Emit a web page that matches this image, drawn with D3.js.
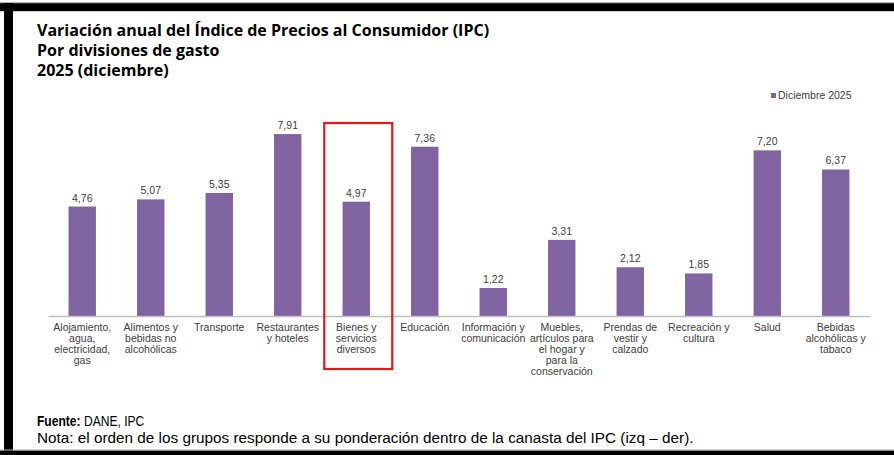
<!DOCTYPE html>
<html>
<head>
<meta charset="utf-8">
<script src="https://cdn.jsdelivr.net/npm/d3@7"></script>
<style>
  html, body { margin: 0; padding: 0; background: #fff; }
  svg { display: block; }
</style>
</head>
<body>
<svg id="chart" width="894" height="455"></svg>
<script>
// chart data
const categories = [
  'Alojamiento,\nagua,\nelectricidad,\ngas',
  'Alimentos y\nbebidas no\nalcohólicas',
  'Transporte',
  'Restaurantes\ny hoteles',
  'Bienes y\nservicios\ndiversos',
  'Educación',
  'Información y\ncomunicación',
  'Muebles,\nartículos para\nel hogar y\npara la\nconservación',
  'Prendas de\nvestir y\ncalzado',
  'Recreación y\ncultura',
  'Salud',
  'Bebidas\nalcohólicas y\ntabaco'
];
const values = [4.76, 5.07, 5.35, 7.91, 4.97, 7.36, 1.22, 3.31, 2.12, 1.85, 7.20, 6.37];
const seriesName = 'Diciembre 2025';
const highlighted = 'Bienes y\nservicios\ndiversos';
const titleLines = [
  'Variación anual del Índice de Precios al Consumidor (IPC)',
  'Por divisiones de gasto',
  '2025 (diciembre)'
];
const sourceLabel = 'Fuente:';
const sourceText = ' DANE, IPC';
const noteText = 'Nota: el orden de los grupos responde a su ponderación dentro de la canasta del IPC (izq – der).';

const svg = d3.select('#chart'),
  width = +svg.attr('width'),
  height = +svg.attr('height');

const barColor = '#8064a2';
const textColor = '#404040';
const fmt = v => d3.format('.2f')(v).replace('.', ',');

// frame (screenshot borders)
svg.append('rect').attr('x', 0).attr('y', 2).attr('width', width).attr('height', 1.2).attr('fill', '#b0b0b0');
svg.append('rect').attr('x', 0).attr('y', 3.2).attr('width', width).attr('height', 8).attr('fill', '#000');
svg.append('rect').attr('x', 4).attr('y', 3).attr('width', 9).attr('height', height).attr('fill', '#000');
svg.append('rect').attr('x', 0).attr('y', 449.5).attr('width', width).attr('height', 1.2).attr('fill', '#b0b0b0');
svg.append('rect').attr('x', 0).attr('y', 450.7).attr('width', width).attr('height', 5).attr('fill', '#000');

// title
svg.append('g')
  .selectAll('text')
  .data(titleLines)
  .enter().append('text')
  .attr('x', 37)
  .attr('y', (d, i) => 36 + i * 20)
  .attr('font-family', '"Open Sans", Lato, sans-serif')
  .attr('font-weight', 'bold')
  .attr('font-size', '16px')
  .attr('fill', '#000')
  .text(d => d);

// scales
const x = d3.scaleBand()
  .domain(categories)
  .range([48, 870])
  .paddingInner(0.6)
  .paddingOuter(0.3);

const y = d3.scaleLinear()
  .domain([0, 9])
  .range([316, 109]);

// bars
svg.append('g')
  .selectAll('rect')
  .data(values)
  .enter().append('rect')
  .attr('x', (d, i) => x(categories[i]))
  .attr('y', d => y(d))
  .attr('width', x.bandwidth())
  .attr('height', d => y(0) - y(d))
  .attr('fill', barColor);

// value labels
svg.append('g')
  .selectAll('text')
  .data(values)
  .enter().append('text')
  .attr('x', (d, i) => x(categories[i]) + x.bandwidth() / 2)
  .attr('y', d => y(d) - 5)
  .attr('text-anchor', 'middle')
  .attr('font-family', '"Liberation Sans", Arial, sans-serif')
  .attr('font-size', '10.5px')
  .attr('fill', textColor)
  .text(d => fmt(d));

// x axis
const xAxis = svg.append('g')
  .attr('transform', `translate(0,${y(0)})`)
  .call(d3.axisBottom(x).tickSize(0).tickFormat(''));
xAxis.select('.domain')
  .attr('stroke', '#bfbfbf')
  .attr('stroke-width', 1.5);

xAxis.selectAll('.tick').each(function(d) {
  const lines = d.split('\n');
  d3.select(this).select('text').remove();
  d3.select(this).append('text')
    .attr('text-anchor', 'middle')
    .attr('font-family', '"Liberation Sans", Arial, sans-serif')
    .attr('font-size', '10.5px')
    .attr('fill', textColor)
    .selectAll('tspan')
    .data(lines)
    .enter().append('tspan')
    .attr('x', 0)
    .attr('y', (l, i) => 15 + i * 11)
    .text(l => l);
});

// highlight box
const hx = x(highlighted) + x.bandwidth() / 2;
svg.append('rect')
  .attr('x', hx - 32)
  .attr('y', 123)
  .attr('width', 68)
  .attr('height', 246)
  .attr('fill', 'none')
  .attr('stroke', '#e8151b')
  .attr('stroke-width', 2.2);

// legend
const legend = svg.append('g').attr('transform', 'translate(771,93)');
legend.append('rect')
  .attr('width', 5).attr('height', 5)
  .attr('fill', barColor);
legend.append('text')
  .attr('x', 7).attr('y', 6)
  .attr('font-family', '"Liberation Sans", Arial, sans-serif')
  .attr('font-size', '10.5px')
  .attr('fill', textColor)
  .text(seriesName);

// footer: narrow face imitated by a horizontal squeeze
const src = svg.append('text')
  .attr('transform', 'translate(37,426) scale(0.78,1)')
  .attr('font-family', '"Liberation Sans", Arial, sans-serif')
  .attr('font-size', '15.5px')
  .attr('fill', '#000');
src.append('tspan').attr('font-weight', 'bold').text(sourceLabel);
src.append('tspan').text(sourceText);

svg.append('text')
  .attr('x', 37).attr('y', 443)
  .attr('font-family', '"Liberation Sans", Arial, sans-serif')
  .attr('font-size', '15.3px')
  .attr('fill', '#000')
  .text(noteText);
</script>
</body>
</html>
